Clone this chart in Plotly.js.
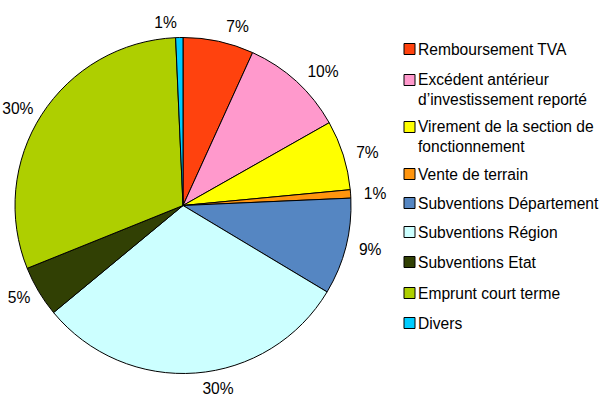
<!DOCTYPE html>
<html><head><meta charset="utf-8">
<script src="https://cdn.plot.ly/plotly-3.0.1.min.js"></script>
<style>html,body{margin:0;padding:0;background:#fff;}#chart{width:603px;height:401px;}</style>
</head><body><div id="chart"></div>
<script>
var categories = ["Remboursement TVA", "Excédent antérieur<br>d’investissement reporté", "Virement de la section de<br>fonctionnement", "Vente de terrain", "Subventions Département", "Subventions Région", "Subventions Etat", "Emprunt court terme", "Divers"];
var values = [6.8, 10.0, 6.7, 0.8, 9.3, 30.4, 4.9, 30.4, 0.7];
var colors = ["#ff420e", "#ff99cc", "#ffff00", "#ff950e", "#5586c2", "#ccffff", "#314004", "#aecf00", "#00ccff"];

var W = 603, H = 401;
var cx = 183, cy = 205.5, r = 168, rText = 175;
var FONT = "Liberation Sans, Arial, sans-serif";
var FS = 15.6;
function dom(x0, y0, rad) {
  return {x: [(x0 - rad) / W, (x0 + rad) / W], y: [(H - y0 - rad) / H, (H - y0 + rad) / H]};
}
var transparent = values.map(function () { return "rgba(0,0,0,0)"; });
// invisible, slightly larger pie that only carries the percentage labels
var labelTrace = {
  type: "pie", values: values, labels: categories, sort: false,
  direction: "clockwise", rotation: 0,
  marker: {colors: transparent, line: {width: 0}},
  textposition: "outside", texttemplate: "%{percent:.0%}",
  outsidetextfont: {family: FONT, size: FS, color: "#000"},
  hoverinfo: "skip", showlegend: false, domain: dom(cx + 2, cy, rText)
};
var pieTrace = {
  type: "pie", values: values, labels: categories, sort: false,
  direction: "clockwise", rotation: 0,
  marker: {colors: colors, line: {color: "#000", width: 1}},
  textinfo: "none", hoverinfo: "label+percent",
  showlegend: false, domain: dom(cx, cy, r)
};

// custom legend built from the arrays
var legendY = [49, 89, 136, 174, 203, 232, 262, 293, 323];
var annotations = [], shapes = [];
for (var i = 0; i < categories.length; i++) {
  var yc = legendY[i];
  var multi = categories[i].indexOf("<br>") >= 0;
  var sq = multi ? yc - 9 : yc;
  shapes.push({type: "rect", xref: "paper", yref: "paper",
    x0: 404 / W, x1: 415 / W, y0: 1 - (sq + 5.5) / H, y1: 1 - (sq - 5.5) / H,
    fillcolor: colors[i], line: {color: "#000", width: 1}});
  annotations.push({xref: "paper", yref: "paper", x: 416 / W, y: 1 - yc / H,
    xanchor: "left", yanchor: "middle", align: "left", showarrow: false,
    text: categories[i], font: {family: FONT, size: FS, color: "#000"}});
}

var layout = {
  width: W, height: H,
  margin: {l: 0, r: 0, t: 0, b: 0},
  paper_bgcolor: "#fff",
  showlegend: false,
  shapes: shapes,
  annotations: annotations
};
Plotly.newPlot("chart", [pieTrace, labelTrace], layout, {displayModeBar: false, staticPlot: true});
</script>
</body></html>
